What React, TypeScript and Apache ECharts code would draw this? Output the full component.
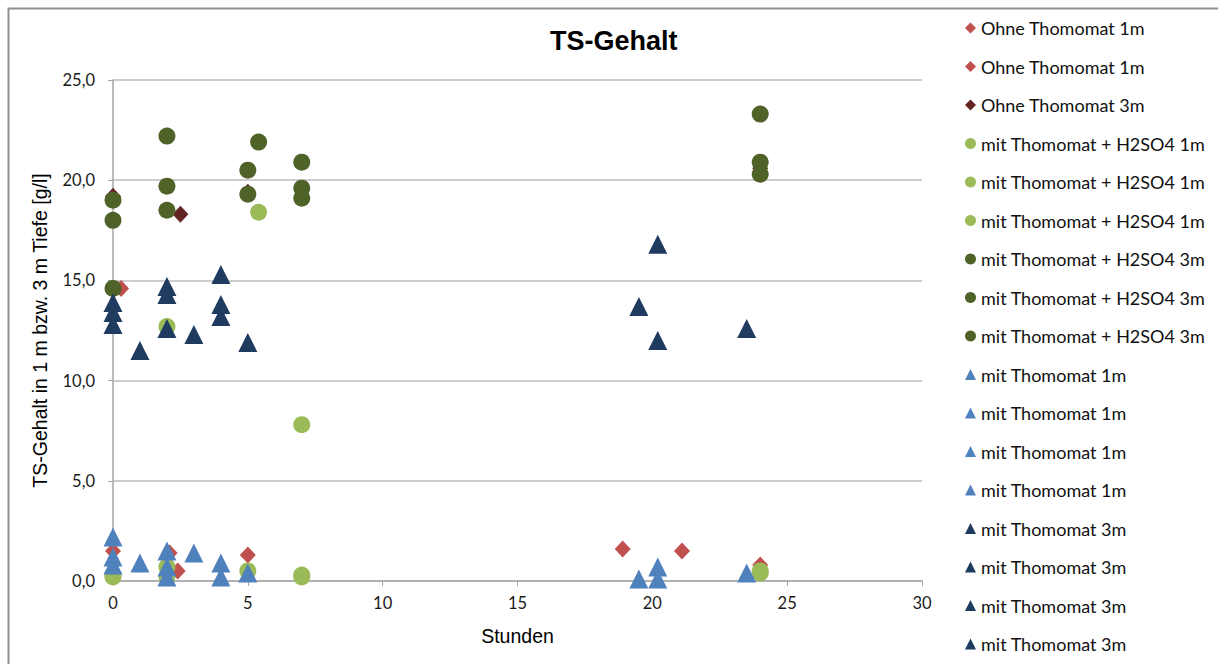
import React, { useEffect, useRef } from "react";
import * as echarts from "echarts";

// Sampling times (hours) and dry-solids content (g/l) per measurement run
const ohne1mA: number[][] = [[0, 1.5], [2.1, 1.4], [5, 1.3], [18.9, 1.6]];
const ohne1mB: number[][] = [[0.3, 14.6], [2.4, 0.5], [21.1, 1.5], [24, 0.8]];
const ohne3m: number[][] = [[0, 19.2], [2.5, 18.3], [5, 19.4], [24, 20.6]];

const h2so41mA: number[][] = [[0, 0.2], [2, 0.7], [5, 0.5], [7, 0.2], [24, 0.4]];
const h2so41mB: number[][] = [[2, 12.7], [5.4, 18.4], [7, 7.8], [2, 0.2]];
const h2so41mC: number[][] = [[0, 0.3], [7, 0.3], [24, 0.5]];

const h2so43mA: number[][] = [[0, 19.0], [2, 22.2], [5, 20.5], [7, 20.9], [24, 23.3]];
const h2so43mB: number[][] = [[0, 18.0], [2, 19.7], [5, 19.3], [7, 19.6], [24, 20.9]];
const h2so43mC: number[][] = [[0, 14.6], [2, 18.5], [5.4, 21.9], [7, 19.1], [24, 20.3]];

const mit1mA: number[][] = [[0, 2.2], [1, 0.9], [2, 1.5], [4, 0.9]];
const mit1mB: number[][] = [[0, 1.2], [2, 0.7], [3, 1.4], [5, 0.4]];
const mit1mC: number[][] = [[0, 0.8], [2, 0.2], [4, 0.2], [19.5, 0.1]];
const mit1mD: number[][] = [[20.2, 0.7], [20.2, 0.1], [23.5, 0.4]];

const mit3mA: number[][] = [[0, 13.9], [1, 11.5], [2, 14.7], [4, 15.3], [19.5, 13.7]];
const mit3mB: number[][] = [[0, 13.4], [2, 14.3], [3, 12.3], [4, 13.8], [20.2, 16.8]];
const mit3mC: number[][] = [[0, 12.8], [2, 12.6], [4, 13.2], [20.2, 12.0]];
const mit3mD: number[][] = [[5, 11.9], [23.5, 12.6]];

const xTicks = { min: 0, max: 30, interval: 5 };
const yTicks = { min: 0, max: 25, interval: 5 };

type Group = { label: string; color: string; symbol: string; size: number | number[]; runs: number[][][] };

const groups: Group[] = [
  { label: "Ohne Thomomat 1m", color: "#C0504D", symbol: "diamond", size: [16, 17], runs: [ohne1mA, ohne1mB] },
  { label: "Ohne Thomomat 3m", color: "#632523", symbol: "diamond", size: [16, 17], runs: [ohne3m] },
  { label: "mit Thomomat + H2SO4 1m", color: "#9BBB59", symbol: "circle", size: 17, runs: [h2so41mA, h2so41mB, h2so41mC] },
  { label: "mit Thomomat + H2SO4 3m", color: "#4F6228", symbol: "circle", size: 17, runs: [h2so43mA, h2so43mB, h2so43mC] },
  { label: "mit Thomomat 1m", color: "#4F81BD", symbol: "triangle", size: [19, 19], runs: [mit1mA, mit1mB, mit1mC, mit1mD] },
  { label: "mit Thomomat 3m", color: "#1F3B60", symbol: "triangle", size: [19, 19], runs: [mit3mA, mit3mB, mit3mC, mit3mD] },
];

export default function App() {
  const ref = useRef<HTMLDivElement>(null);

  useEffect(() => {
    if (!ref.current) return;
    const chart = echarts.init(ref.current, undefined, { renderer: "svg" });

    const series: any[] = [];
    const legendData: any[] = [];
    groups.forEach((g) => {
      g.runs.forEach((run, i) => {
        const name = `${g.label}|${i}`;
        series.push({
          name,
          type: "scatter",
          data: run,
          symbol: g.symbol,
          symbolSize: g.size,
          itemStyle: { color: g.color, opacity: 1 },
          emphasis: { disabled: true },
        });
        legendData.push({ name, icon: g.symbol, itemStyle: { color: g.color } });
      });
    });

    const labelFont = "Lato, 'Open Sans', sans-serif";
    const axisFont = "'Liberation Sans', Arial, sans-serif";

    chart.setOption({
      animation: false,
      backgroundColor: "#ffffff",
      title: {
        text: "TS-Gehalt",
        left: 545,
        top: 22,
        textStyle: { fontFamily: axisFont, fontSize: 27, fontWeight: "bold", color: "#000" },
      },
      graphic: [
        {
          type: "rect",
          shape: { x: 8.5, y: 8.5, width: 1300, height: 700 },
          style: { fill: "none", stroke: "#8f8f8f", lineWidth: 2 },
          silent: true,
        },
      ],
      legend: {
        orient: "vertical",
        left: 960,
        top: 14,
        itemWidth: 11,
        itemHeight: 11,
        itemGap: 20.5,
        selectedMode: false,
        data: legendData,
        formatter: (n: string) => n.split("|")[0],
        textStyle: { fontFamily: labelFont, fontSize: 18, lineHeight: 18, color: "#111", padding: [0, 0, 0, 0] },
      },
      grid: { left: 113, top: 80, width: 809, height: 501, containLabel: false },
      xAxis: {
        type: "value",
        ...xTicks,
        name: "Stunden",
        nameLocation: "middle",
        nameGap: 45,
        nameTextStyle: { fontFamily: axisFont, fontSize: 19.5, color: "#000" },
        axisLine: { show: true, onZero: false, lineStyle: { color: "#a6a6a6", width: 1.5 } },
        axisTick: { show: true, length: 5, lineStyle: { color: "#a6a6a6" } },
        splitLine: { show: false },
        axisLabel: { margin: 13, fontFamily: labelFont, fontSize: 16.5, color: "#1a1a1a" },
      },
      yAxis: {
        type: "value",
        ...yTicks,
        name: "TS-Gehalt in 1 m bzw. 3 m Tiefe [g/l]",
        nameLocation: "middle",
        nameGap: 63,
        nameTextStyle: { fontFamily: axisFont, fontSize: 19.5, color: "#000" },
        axisLine: { show: true, lineStyle: { color: "#a6a6a6", width: 1.5 } },
        axisTick: { show: true, length: 5, lineStyle: { color: "#a6a6a6" } },
        splitLine: { show: true, lineStyle: { color: "#bdbdbd", width: 1.5 } },
        axisLabel: {
          margin: 18,
          fontFamily: labelFont,
          fontSize: 16.5,
          color: "#1a1a1a",
          formatter: (v: number) => v.toFixed(1).replace(".", ","),
        },
      },
      series,
    });

    return () => chart.dispose();
  }, []);

  return (
    <div
      ref={ref}
      style={{ position: "fixed", left: 0, top: 0, width: 1218, height: 664, background: "#fff" }}
    />
  );
}
